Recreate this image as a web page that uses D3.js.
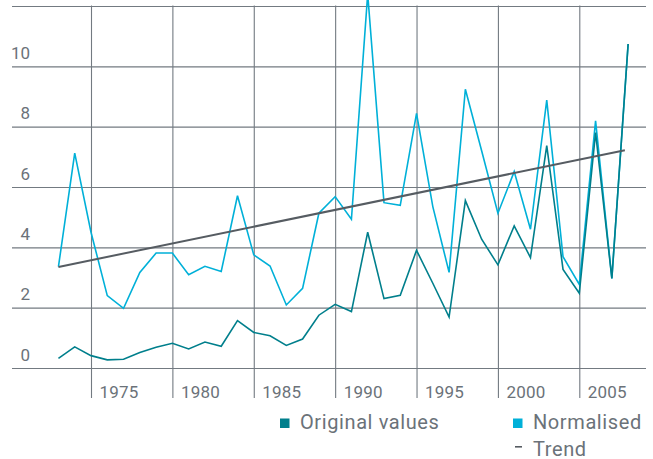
<!DOCTYPE html>
<html>
<head>
<meta charset="utf-8">
<script src="https://cdn.jsdelivr.net/npm/d3@7"></script>
<style>
  html, body { margin: 0; padding: 0; background: #ffffff; }
  svg { display: block; font-family: Roboto, "Liberation Sans", sans-serif; }
</style>
</head>
<body>
<svg id="chart" width="653" height="459"></svg>
<script>
// Yearly values, 1973–2008
const years = [1973, 1974, 1975, 1976, 1977, 1978, 1979, 1980, 1981, 1982,
               1983, 1984, 1985, 1986, 1987, 1988, 1989, 1990, 1991, 1992,
               1993, 1994, 1995, 1996, 1997, 1998, 1999, 2000, 2001, 2002,
               2003, 2004, 2005, 2006, 2007, 2008];

const originalValues = [0.32, 0.70, 0.41, 0.27, 0.29, 0.51, 0.69, 0.82, 0.63, 0.86,
                        0.72, 1.57, 1.18, 1.07, 0.75, 0.96, 1.75, 2.11, 1.87, 4.50,
                        2.30, 2.41, 3.90, 2.81, 1.69, 5.55, 4.27, 3.42, 4.71, 3.66,
                        7.37, 3.27, 2.48, 7.80, 2.97, 10.74];

const normalisedValues = [3.36, 7.12, 4.50, 2.40, 1.98, 3.17, 3.81, 3.81, 3.09, 3.37,
                          3.20, 5.71, 3.75, 3.38, 2.09, 2.64, 5.13, 5.68, 4.93, 12.40,
                          5.48, 5.39, 8.44, 5.35, 3.17, 9.24, 7.20, 5.13, 6.51, 4.60,
                          8.88, 3.69, 2.77, 8.19, 2.97, 10.74];

// Linear trend end points
const trendYears = [1973, 2007.8];
const trendValues = [3.35, 7.22];

const xTickValues = [1975, 1980, 1985, 1990, 1995, 2000, 2005];
const yTickValues = [0, 2, 4, 6, 8, 10, 12];
const yTickLabels = ["0", "2", "4", "6", "8", "10", ""];

const legendLabels = ["Original values", "Normalised", "Trend"];

const colors = {
  original: "#007f8c",
  normalised: "#00b0d8",
  trend: "#565c62",
  grid: "#737a81",
  text: "#6b7279"
};

const svg = d3.select("#chart");

const gridLeft = 12, gridRight = 646, gridTop = 5.5, axisBottom = 398;

const x = d3.scaleLinear().domain([1975, 2005]).range([91, 579.3]);
const y = d3.scaleLinear().domain([0, 12]).range([368, 6]);

// Horizontal grid with value labels above each line
const yAxis = d3.axisLeft(y)
  .tickValues(yTickValues)
  .tickSize(-(gridRight - gridLeft))
  .tickFormat((d, i) => yTickLabels[i]);

const gy = svg.append("g")
  .attr("transform", `translate(${gridLeft},0)`)
  .call(yAxis);
gy.select(".domain").remove();
gy.selectAll(".tick line")
  .attr("stroke", colors.grid)
  .attr("stroke-width", 1.1);
gy.selectAll(".tick text")
  .attr("x", 18)
  .attr("dy", -8)
  .attr("text-anchor", "end")
  .attr("fill", colors.text)
  .style("font-size", "17px")
  .style("font-family", "Roboto, sans-serif");

// Vertical grid with year labels to the right of each line
const xAxis = d3.axisBottom(x)
  .tickValues(xTickValues)
  .tickSize(-(axisBottom - gridTop))
  .tickFormat(d3.format("d"));

const gx = svg.append("g")
  .attr("transform", `translate(0,${axisBottom})`)
  .call(xAxis);
gx.select(".domain").remove();
gx.selectAll(".tick line")
  .attr("stroke", colors.grid)
  .attr("stroke-width", 1.1);
gx.selectAll(".tick text")
  .attr("x", 8)
  .attr("y", 0)
  .attr("dy", 0)
  .attr("text-anchor", "start")
  .attr("fill", colors.text)
  .style("font-size", "17px")
  .style("letter-spacing", "0.2px")
  .style("font-family", "Roboto, sans-serif");

// Series lines
const line = d3.line()
  .x((d, i) => x(years[i]))
  .y(d => y(d));

svg.append("path")
  .datum(normalisedValues)
  .attr("fill", "none")
  .attr("stroke", colors.normalised)
  .attr("stroke-width", 1.6)
  .attr("stroke-linejoin", "miter")
  .attr("d", line);

svg.append("path")
  .datum(originalValues)
  .attr("fill", "none")
  .attr("stroke", colors.original)
  .attr("stroke-width", 1.6)
  .attr("stroke-linejoin", "miter")
  .attr("d", line);

// Trend line
const trendLine = d3.line()
  .x((d, i) => x(trendYears[i]))
  .y(d => y(d));

svg.append("path")
  .datum(trendValues)
  .attr("fill", "none")
  .attr("stroke", colors.trend)
  .attr("stroke-width", 2)
  .attr("d", trendLine);

// Legend
const legend = svg.append("g")
  .style("font-family", "Roboto, sans-serif")
  .style("font-size", "20px")
  .style("letter-spacing", "0.6px")
  .attr("fill", colors.text);

const legendItems = [
  { label: legendLabels[0], color: colors.original, type: "square", x: 280, y: 429 },
  { label: legendLabels[1], color: colors.normalised, type: "square", x: 513, y: 429 },
  { label: legendLabels[2], color: colors.trend, type: "dash", x: 513, y: 455.5 }
];

legendItems.forEach(item => {
  const g = legend.append("g").attr("transform", `translate(${item.x},${item.y})`);
  if (item.type === "square") {
    g.append("rect")
      .attr("x", 0).attr("y", -10.5)
      .attr("width", 9.5).attr("height", 9.5)
      .attr("fill", item.color);
  } else {
    g.append("rect")
      .attr("x", 2).attr("y", -9.5)
      .attr("width", 7).attr("height", 1.6)
      .attr("fill", item.color);
  }
  g.append("text")
    .attr("x", 20)
    .attr("y", 0)
    .text(item.label);
});
</script>
</body>
</html>
